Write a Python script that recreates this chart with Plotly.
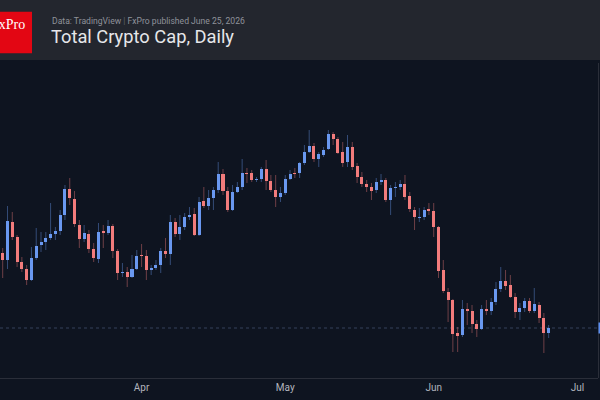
import datetime as dt
import plotly.graph_objects as go

# ---- data (total crypto market cap, $T, daily) ----
start_date = "2026-03-03"
opens = [3.47,3.40,3.78,3.63,3.38,3.31,3.20,3.42,3.55,3.58,3.62,3.66,3.69,3.85,4.11,4.01,3.75,3.61,3.66,3.51,
         3.41,3.69,3.67,3.74,3.49,3.27,3.28,3.23,3.31,3.45,3.44,3.30,3.32,3.35,3.49,3.46,3.78,3.66,3.73,3.83,
         3.86,3.65,3.99,3.94,4.02,4.10,4.26,4.09,3.90,4.08,4.13,4.27,4.27,4.20,4.21,4.31,4.19,4.10,4.03,4.07,
         4.21,4.27,4.27,4.37,4.48,4.54,4.41,4.45,4.51,4.66,4.61,4.48,4.38,4.53,4.34,4.23,4.16,4.13,4.10,4.18,
         4.20,4.00,4.12,4.13,4.16,4.04,3.90,3.82,3.83,3.91,3.89,3.73,3.30,3.08,3.00,2.67,2.65,2.91,2.89,2.76,
         2.71,2.91,2.89,2.98,3.11,3.19,3.15,3.03,2.88,2.92,2.99,2.89,2.95,2.82,2.67]
highs = [3.52,3.94,3.88,3.65,3.43,3.35,3.53,3.72,3.68,3.68,3.97,3.73,3.90,4.15,4.22,4.09,3.80,3.75,3.70,3.57,
         3.77,3.75,3.80,3.76,3.51,3.37,3.33,3.45,3.50,3.56,3.50,3.35,3.40,3.52,3.62,3.85,3.82,3.85,3.87,3.93,
         3.92,4.03,4.13,4.10,4.13,4.38,4.31,4.13,4.15,4.18,4.41,4.32,4.30,4.23,4.33,4.40,4.25,4.25,4.13,4.25,
         4.30,4.32,4.38,4.55,4.70,4.57,4.48,4.53,4.70,4.68,4.63,4.58,4.65,4.58,4.37,4.28,4.20,4.17,4.22,4.26,
         4.22,4.15,4.18,4.20,4.25,4.08,3.93,3.92,3.93,3.97,3.97,3.74,3.40,3.12,3.01,2.73,3.00,2.97,2.95,2.80,
         2.95,3.00,3.02,3.18,3.33,3.30,3.25,3.07,2.97,3.02,3.02,3.12,2.98,2.87,2.75]
lows = [3.22,3.31,3.60,3.33,3.28,3.15,3.19,3.40,3.48,3.50,3.60,3.60,3.65,3.80,3.95,3.73,3.52,3.58,3.47,3.38,
        3.37,3.52,3.65,3.42,3.20,3.23,3.13,3.22,3.30,3.33,3.20,3.25,3.30,3.27,3.42,3.35,3.63,3.60,3.70,3.80,
        3.64,3.64,3.92,3.90,3.90,4.07,4.05,3.88,3.89,4.07,4.10,4.17,4.18,4.18,4.18,4.10,4.08,3.93,3.98,4.05,
        4.20,4.22,4.22,4.35,4.47,4.38,4.33,4.43,4.50,4.55,4.46,4.33,4.33,4.30,4.17,4.13,4.08,4.00,4.07,4.15,
        3.98,3.85,4.03,4.10,4.00,3.88,3.70,3.78,3.80,3.85,3.63,3.22,3.07,2.78,2.48,2.48,2.63,2.75,2.67,2.63,
        2.70,2.85,2.85,2.95,3.08,3.10,3.02,2.82,2.80,2.88,2.87,2.87,2.77,2.47,2.62]
closes = [3.40,3.79,3.63,3.38,3.31,3.20,3.42,3.54,3.58,3.62,3.66,3.69,3.85,4.11,4.02,3.76,3.61,3.67,3.51,3.42,
          3.68,3.67,3.74,3.49,3.27,3.28,3.23,3.31,3.44,3.44,3.30,3.32,3.35,3.49,3.46,3.78,3.66,3.73,3.83,3.85,
          3.65,3.98,3.94,4.02,4.10,4.26,4.09,3.90,4.08,4.13,4.27,4.26,4.20,4.21,4.31,4.19,4.10,4.03,4.07,4.21,
          4.26,4.26,4.37,4.48,4.54,4.41,4.46,4.50,4.66,4.61,4.47,4.37,4.53,4.33,4.23,4.16,4.13,4.09,4.18,4.20,
          4.00,4.12,4.13,4.16,4.03,3.91,3.83,3.83,3.90,3.89,3.73,3.29,3.09,3.00,2.66,2.64,2.91,2.89,2.76,2.71,
          2.91,2.89,2.98,3.11,3.19,3.14,3.03,2.88,2.92,2.99,2.89,2.96,2.82,2.67,2.72]

tick_dates = ["2026-04-01", "2026-05-01", "2026-06-01", "2026-07-01"]
tick_labels = ["Apr", "May", "Jun", "Jul"]

subtitle = "Data: TradingView <span style='color:#5d6068'>|</span> FxPro published June 25, 2026"
title = "Total Crypto Cap, Daily"
logo_text = "FxPro"

# ---- styling ----
W, H = 600, 400
ML, MR, MT, MB = 0, 2, 63, 22
PW, PH = W - ML - MR, H - MT - MB
BG = "#0e1420"
UP, DN = "#6a98f0", "#f27c7c"
UP_W, DN_W = "rgba(106,152,240,0.42)", "rgba(242,124,124,0.42)"

def px(x):
    return (x - ML) / PW

def py(y):
    return 1 - (y - MT) / PH

d0 = dt.datetime.fromisoformat(start_date)
dates = [d0 + dt.timedelta(days=i) for i in range(len(opens))]

def wick_xy(up):
    xs, ys = [], []
    for d, o, h, l, c in zip(dates, opens, highs, lows, closes):
        if (c >= o) == up:
            xs += [d, d, None]
            ys += [l, h, None]
    return xs, ys

fig = go.Figure()
for up, col in ((True, UP_W), (False, DN_W)):
    xs, ys = wick_xy(up)
    fig.add_trace(go.Scatter(x=xs, y=ys, mode="lines", line=dict(color=col, width=1),
                             hoverinfo="skip", showlegend=False))

bases = [min(o, c) for o, c in zip(opens, closes)]
heights = [max(abs(c - o), 0.008) for o, c in zip(opens, closes)]
colors = [UP if c >= o else DN for o, c in zip(opens, closes)]
fig.add_trace(go.Bar(x=dates, y=heights, base=bases, marker=dict(color=colors, line=dict(width=0)),
                     width=0.63 * 86400000, showlegend=False, hoverinfo="skip"))

# x range: pixel 0 -> first candle minus 2.7px, 4.789 px/day
px_per_day = 4.789
x_start = d0 - dt.timedelta(days=2.7 / px_per_day)
x_end = x_start + dt.timedelta(days=PW / px_per_day)

last_close = closes[-1]
shapes = [
    # header band
    dict(type="rect", xref="paper", yref="paper", x0=px(0), x1=px(W), y0=py(60), y1=py(0),
         fillcolor="#23262e", line=dict(width=0), layer="above"),
    # logo
    dict(type="rect", xref="paper", yref="paper", x0=px(0), x1=px(32), y0=py(53.3), y1=py(11.7),
         fillcolor="#e30613", line=dict(width=0), layer="above"),
    # last price line
    dict(type="line", xref="paper", yref="y", x0=0, x1=1, y0=last_close, y1=last_close,
         line=dict(color="#34405a", width=1, dash="dot"), layer="below"),
    # price scale border
    dict(type="line", xref="paper", yref="paper", x0=px(598.5), x1=px(598.5), y0=py(378), y1=py(63),
         line=dict(color="#2a2e39", width=1)),
    # price label stub
    dict(type="rect", xref="paper", yref="y", x0=px(598.5), x1=px(600), y0=last_close - 0.055,
         y1=last_close + 0.055, fillcolor="#5b8def", line=dict(width=0)),
]

annotations = [
    dict(text=logo_text, xref="paper", yref="paper", x=px(26.5), y=py(24), xanchor="right",
         yanchor="middle", showarrow=False, font=dict(family="Liberation Serif", size=14, color="#ffffff")),
    dict(text=subtitle, xref="paper", yref="paper", x=px(49.5), y=py(20.5), xanchor="left",
         yanchor="middle", showarrow=False, font=dict(family="Roboto", size=8.6, color="#8f929a")),
    dict(text=title, xref="paper", yref="paper", x=px(49), y=py(36.5), xanchor="left",
         yanchor="middle", showarrow=False, font=dict(family="Roboto", size=18.3, color="#e6e7ea")),
]

fig.update_layout(
    width=W, height=H, margin=dict(l=ML, r=MR, t=MT, b=MB),
    paper_bgcolor=BG, plot_bgcolor=BG, barmode="overlay", bargap=0,
    shapes=shapes, annotations=annotations, showlegend=False,
    xaxis=dict(type="date", range=[x_start, x_end], showgrid=False, zeroline=False,
               tickvals=tick_dates, ticktext=tick_labels, ticks="",
               tickfont=dict(family="Roboto", size=10, color="#b2b5be"),
               showline=True, linecolor="#2a2e39", linewidth=1, fixedrange=True),
    yaxis=dict(range=[2.22, 5.37], visible=False, showgrid=False, zeroline=False, fixedrange=True),
)

fig.write_html("out.html")
